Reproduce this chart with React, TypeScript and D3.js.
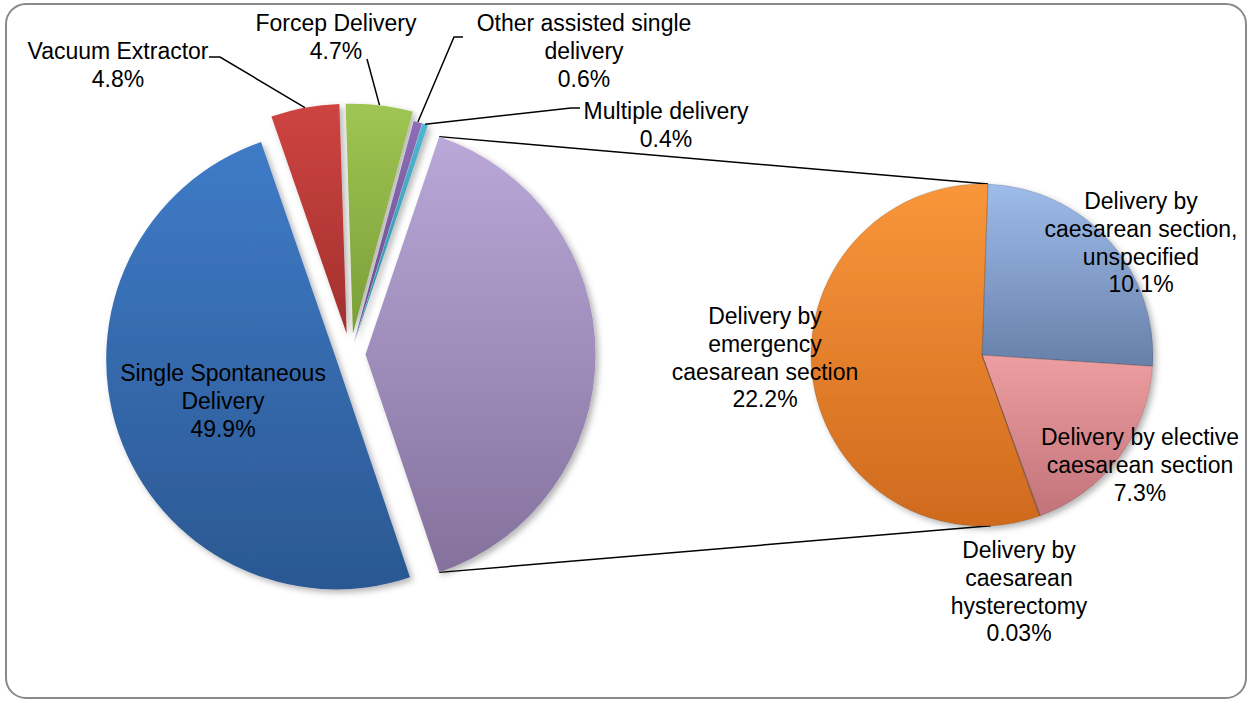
import React from "react";
import * as d3 from "d3";

// ---------- DATA ----------
const mainCategories = [
  "Single Spontaneous Delivery",
  "Vacuum Extractor",
  "Forcep Delivery",
  "Other assisted single delivery",
  "Multiple delivery",
];
const mainValues = [49.9, 4.8, 4.7, 0.6, 0.4];

const subCategories = [
  "Delivery by caesarean section, unspecified",
  "Delivery by elective caesarean section",
  "Delivery by caesarean hysterectomy",
  "Delivery by emergency caesarean section",
];
const subValues = [10.1, 7.3, 0.03, 22.2];

const mainLabelLines = [
  ["Single Spontaneous", "Delivery"],
  ["Vacuum Extractor"],
  ["Forcep Delivery"],
  ["Other assisted single", "delivery"],
  ["Multiple delivery"],
];
const subLabelLines = [
  ["Delivery by", "caesarean section,", "unspecified"],
  ["Delivery by elective", "caesarean section"],
  ["Delivery by", "caesarean", "hysterectomy"],
  ["Delivery by", "emergency", "caesarean section"],
];

// ---------- STYLE / LAYOUT ----------
const W = 1251;
const H = 703;
const MAIN = { cx: 350.5, cy: 354.5, r: 230 };
const SUB = { cx: 982, cy: 355, r: 171, startDeg: 2 };
const FONT = 23;
const LINE = 27.6;
const STRETCH_Y = 1.08;
const mainExplode = [15, 21, 21, 12, 12];
const groupExplode = 15;

const mainColors = [
  ["#3F7BC7", "#2B5892"],
  ["#CE4441", "#A2302E"],
  ["#9FC553", "#7B9E38"],
  ["#8C6DB6", "#654A8C"],
  ["#52B6D2", "#2E8BA5"],
];
const groupColor = ["#B9A8D8", "#84719C"];
const subColors = [
  ["#9EBCEA", "#6780A9"],
  ["#EC9EA0", "#C2737A"],
  ["#E0A0A0", "#C07070"],
  ["#F9963A", "#CF6A1E"],
];

// label anchor: centre x, centre y of first line
const mainLabelPos = [
  [223, 372],
  [118, 50],
  [336, 22],
  [584, 22],
  [666, 110],
];
const subLabelPos = [
  [1141, 200],
  [1140, 436],
  [1019, 549],
  [765, 315],
];
// leader start points near label, with optional horizontal stub end
const mainLeaders: (null | { x: number; y: number; sx: number })[] = [
  null,
  { x: 209, y: 57, sx: 220 },
  { x: 367, y: 59, sx: 367 },
  { x: 463, y: 37, sx: 454 },
  { x: 580, y: 108, sx: 571 },
];

const fmt = (v: number) => (v < 0.1 ? v.toFixed(2) : v.toFixed(1)) + "%";

export default function App() {
  const groupValue = d3.sum(subValues);
  const total = d3.sum(mainValues) + groupValue;
  const groupFrac = groupValue / total;
  const start = Math.PI / 2 + Math.PI * groupFrac;

  const mainData = mainValues.map((v, i) => ({ v, i, group: false }));
  mainData.push({ v: groupValue, i: mainValues.length, group: true });

  const mainPie = d3
    .pie<any>()
    .sort(null)
    .value((d) => d.v)
    .startAngle(start)
    .endAngle(start + 2 * Math.PI)(mainData);

  const mainArc = d3.arc<any>().innerRadius(0).outerRadius(MAIN.r);

  const subStart = (SUB.startDeg * Math.PI) / 180;
  const subPie = d3
    .pie<number>()
    .sort(null)
    .value((d) => d)
    .startAngle(subStart)
    .endAngle(subStart + 2 * Math.PI)(subValues);
  const subArc = d3.arc<any>().innerRadius(0).outerRadius(SUB.r);

  const dir = (a: number) => [Math.sin(a), -Math.cos(a)];

  const mainSlices = mainPie.map((p) => {
    const mid = (p.startAngle + p.endAngle) / 2;
    const e = p.data.group ? groupExplode : mainExplode[p.data.i];
    const [dx, dy] = dir(mid);
    const ox = MAIN.cx + e * dx;
    const oy = MAIN.cy + e * dy;
    return { p, ox, oy, mid };
  });

  const group = mainSlices[mainSlices.length - 1];
  const gTop = dir(group.p.startAngle);
  const gBot = dir(group.p.endAngle);
  const connTop = [group.ox + MAIN.r * gTop[0], group.oy + MAIN.r * gTop[1]];
  const connBot = [group.ox + MAIN.r * gBot[0], group.oy + MAIN.r * gBot[1]];
  const sTop = dir((2 * Math.PI) / 180);
  const sBot = dir((177 * Math.PI) / 180);
  const subTop = [SUB.cx + SUB.r * sTop[0], SUB.cy + SUB.r * sTop[1]];
  const subBot = [SUB.cx + SUB.r * sBot[0], SUB.cy + SUB.r * sBot[1]];

  const font = "'Liberation Sans', Arial, Helvetica, sans-serif";

  const renderLabel = (lines: string[], pct: string, x: number, y: number, key: string) => (
    <g key={key} transform={`translate(${x},${y}) scale(1,${STRETCH_Y})`}>
      <text
        x={0}
        y={0}
        textAnchor="middle"
        dominantBaseline="central"
        fontFamily={font}
        fontSize={FONT}
        fill="#000"
      >
        {[...lines, pct].map((l, k) => (
          <tspan key={k} x={0} y={(k * LINE) / STRETCH_Y}>
            {l}
          </tspan>
        ))}
      </text>
    </g>
  );

  return (
    <svg
      width={W}
      height={H}
      style={{ position: "absolute", left: 0, top: 0 }}
      xmlns="http://www.w3.org/2000/svg"
    >
      <defs>
        <filter id="shadow" x="-20%" y="-20%" width="140%" height="140%">
          <feDropShadow dx="3" dy="3" stdDeviation="3" floodColor="#000" floodOpacity="0.3" />
        </filter>
        {mainSlices.map((s, k) => {
          const c = s.p.data.group ? groupColor : mainColors[s.p.data.i];
          return (
            <linearGradient key={k} id={`mg${k}`} x1="0" y1="0" x2="0" y2="1">
              <stop offset="0" stopColor={c[0]} />
              <stop offset="1" stopColor={c[1]} />
            </linearGradient>
          );
        })}
        {subPie.map((p, k) => (
          <linearGradient key={k} id={`sg${k}`} x1="0" y1="0" x2="0" y2="1">
            <stop offset="0" stopColor={subColors[k][0]} />
            <stop offset="1" stopColor={subColors[k][1]} />
          </linearGradient>
        ))}
        {mainSlices.map((s, k) => (
          <clipPath key={k} id={`mc${k}`}>
            <path d={mainArc(s.p) as string} transform={`translate(${s.ox},${s.oy})`} />
          </clipPath>
        ))}
        {subPie.map((p, k) => (
          <clipPath key={k} id={`sc${k}`}>
            <path d={subArc(p) as string} transform={`translate(${SUB.cx},${SUB.cy})`} />
          </clipPath>
        ))}
      </defs>

      <rect x={6} y={4} width={1240} height={694} rx={20} ry={20} fill="#fff" stroke="#8a8a8a" strokeWidth={2} />

      {/* connectors */}
      <line x1={connTop[0]} y1={connTop[1]} x2={subTop[0]} y2={subTop[1]} stroke="#000" strokeWidth={1.5} />
      <line x1={connBot[0]} y1={connBot[1]} x2={subBot[0]} y2={subBot[1]} stroke="#000" strokeWidth={1.5} />

      {/* main pie */}
      <g filter="url(#shadow)">
        {mainSlices.map((s, k) => (
          <path
            key={k}
            d={mainArc(s.p) as string}
            transform={`translate(${s.ox},${s.oy})`}
            fill={`url(#mg${k})`}
          />
        ))}
      </g>
      {mainSlices.map((s, k) => (
        <path
          key={k}
          d={mainArc(s.p) as string}
          transform={`translate(${s.ox},${s.oy})`}
          fill="none"
          stroke="rgba(255,255,255,0.28)"
          strokeWidth={5}
          clipPath={`url(#mc${k})`}
        />
      ))}

      {/* secondary pie */}
      <g filter="url(#shadow)">
        {subPie.map((p, k) => (
          <path
            key={k}
            d={subArc(p) as string}
            transform={`translate(${SUB.cx},${SUB.cy})`}
            fill={`url(#sg${k})`}
          />
        ))}
      </g>
      {subPie.map((p, k) => (
        <path
          key={k}
          d={subArc(p) as string}
          transform={`translate(${SUB.cx},${SUB.cy})`}
          fill="none"
          stroke="rgba(255,255,255,0.28)"
          strokeWidth={5}
          clipPath={`url(#sc${k})`}
        />
      ))}
      {subPie.map((p, k) => (
        <path
          key={`o${k}`}
          d={subArc(p) as string}
          transform={`translate(${SUB.cx},${SUB.cy})`}
          fill="none"
          stroke="rgba(0,0,0,0.18)"
          strokeWidth={0.8}
        />
      ))}

      {/* leader lines */}
      {mainSlices.slice(0, mainValues.length).map((s, k) => {
        const L = mainLeaders[k];
        if (!L) return null;
        const [dx, dy] = dir(s.mid);
        const ax = s.ox + MAIN.r * dx;
        const ay = s.oy + MAIN.r * dy;
        return (
          <polyline
            key={k}
            points={`${L.x},${L.y} ${L.sx},${L.y} ${ax},${ay}`}
            fill="none"
            stroke="#000"
            strokeWidth={1.5}
          />
        );
      })}

      {/* labels */}
      {mainCategories.map((c, k) =>
        renderLabel(mainLabelLines[k], fmt(mainValues[k]), mainLabelPos[k][0], mainLabelPos[k][1], `ml${k}`)
      )}
      {subCategories.map((c, k) =>
        renderLabel(subLabelLines[k], fmt(subValues[k]), subLabelPos[k][0], subLabelPos[k][1], `sl${k}`)
      )}
    </svg>
  );
}
